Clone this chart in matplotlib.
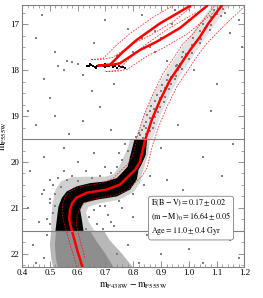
import numpy as np
import matplotlib
matplotlib.use("Agg")
import matplotlib.pyplot as plt

plt.rcParams['font.family'] = 'serif'
plt.rcParams['font.serif'] = ['Liberation Serif', 'DejaVu Serif']
plt.rcParams['mathtext.fontset'] = 'stix'

# best-fit isochrone (colour, magnitude)
iso_c = [0.617, 0.600, 0.585, 0.575, 0.570, 0.572, 0.580, 0.595, 0.633, 0.705, 0.753, 0.783,
         0.807, 0.824, 0.843, 0.867, 0.897, 0.933, 0.981, 1.005, 1.040, 1.071, 1.120]
iso_m = [22.28, 21.95, 21.62, 21.40, 21.25, 21.05, 20.90, 20.78, 20.67, 20.60, 20.49, 20.31,
         20.17, 20.00, 19.52, 19.08, 18.65, 18.21, 17.78, 17.56, 17.28, 16.98, 16.58]

# uncertainty isochrones (dashed)
iso_lo_c = [0.600, 0.591, 0.574, 0.559, 0.549, 0.544, 0.546, 0.554, 0.569, 0.607, 0.679, 0.727,
            0.757, 0.781, 0.798, 0.817, 0.841, 0.871, 0.907, 0.955, 0.979, 1.017, 1.060, 1.100]
iso_lo_m = [22.35, 22.15, 21.82, 21.49, 21.27, 21.12, 20.92, 20.77, 20.65, 20.54, 20.47, 20.36,
            20.18, 20.04, 19.87, 19.39, 18.95, 18.52, 18.08, 17.65, 17.43, 17.20, 16.85, 16.55]
iso_hi_c = [0.626, 0.611, 0.601, 0.596, 0.598, 0.606, 0.621, 0.659, 0.731, 0.779, 0.809, 0.833,
            0.850, 0.869, 0.893, 0.923, 0.959, 1.007, 1.031, 1.066, 1.100, 1.150, 1.200]
iso_hi_m = [22.08, 21.75, 21.53, 21.38, 21.18, 21.03, 20.91, 20.80, 20.73, 20.62, 20.44, 20.30,
            20.13, 19.65, 19.21, 18.78, 18.34, 17.91, 17.69, 17.41, 17.20, 16.90, 16.62]

# horizontal branch / AGB tracks
agb1_c = [0.675, 0.717, 0.760, 0.813, 0.897, 1.005]
agb1_m = [17.90, 17.88, 17.62, 17.34, 16.98, 16.60]
agb2_c = [0.675, 0.720, 0.753, 0.825, 0.885, 0.969, 1.066]
agb2_m = [17.90, 17.89, 17.85, 17.56, 17.38, 17.08, 16.60]
agb1_lo_c = [0.649, 0.691, 0.734, 0.787, 0.871, 0.979]
agb1_lo_m = [17.77, 17.75, 17.49, 17.21, 16.85, 16.47]
agb1_hi_c = [0.701, 0.743, 0.786, 0.839, 0.923, 1.031]
agb1_hi_m = [18.03, 18.01, 17.75, 17.47, 17.11, 16.73]
agb2_lo_c = [0.649, 0.694, 0.727, 0.799, 0.859, 0.943, 1.040]
agb2_lo_m = [17.77, 17.76, 17.72, 17.43, 17.25, 16.95, 16.47]
agb2_hi_c = [0.701, 0.746, 0.779, 0.851, 0.911, 0.995, 1.092]
agb2_hi_m = [18.03, 18.02, 17.98, 17.69, 17.51, 17.21, 16.73]

# dense regions of the CMD (outlines)
black_c = [0.520, 0.525, 0.531, 0.543, 0.561, 0.597, 0.645, 0.705, 0.741, 0.765, 0.780, 0.790, 0.805,
           0.850, 0.845, 0.830, 0.819, 0.813, 0.789, 0.741, 0.669, 0.621, 0.609, 0.615, 0.621]
black_m = [21.50, 21.25, 20.97, 20.78, 20.64, 20.53, 20.46, 20.42, 20.35, 20.20, 20.10, 19.85, 19.50,
           19.50, 19.85, 20.05, 20.17, 20.38, 20.60, 20.75, 20.82, 20.89, 21.04, 21.25, 21.50]
halo_c = [0.505, 0.505, 0.510, 0.520, 0.540, 0.580, 0.630, 0.700, 0.730, 0.750, 0.765, 0.780, 0.790,
          0.860, 0.855, 0.840, 0.830, 0.825, 0.800, 0.750, 0.680, 0.640, 0.630, 0.640, 0.660]
halo_m = [21.50, 21.20, 20.90, 20.60, 20.42, 20.33, 20.32, 20.32, 20.26, 20.10, 19.90, 19.70, 19.50,
          19.50, 19.80, 20.10, 20.30, 20.45, 20.66, 20.82, 20.90, 20.97, 21.10, 21.30, 21.50]
rgb_band_c = [0.809, 0.837, 0.874, 0.922, 0.977, 1.034, 1.084, 1.144, 1.094, 1.037, 0.982, 0.934, 0.897, 0.869]
rgb_band_m = [19.50, 19.00, 18.50, 18.00, 17.50, 17.00, 16.59, 16.59, 17.00, 17.50, 18.00, 18.50, 19.00, 19.50]
ms_out_c = [0.505, 0.500, 0.505, 0.512, 0.800, 0.760, 0.715, 0.695]
ms_out_m = [21.50, 21.80, 22.10, 22.30, 22.30, 22.00, 21.70, 21.50]
ms_in_c = [0.522, 0.518, 0.522, 0.528, 0.730, 0.700, 0.665, 0.645]
ms_in_m = [21.50, 21.80, 22.10, 22.30, 22.30, 22.00, 21.70, 21.50]

# field stars and loose points
field_c = [0.45, 0.52, 0.48, 0.55, 0.60, 0.58, 0.62, 0.66, 0.70, 0.78, 0.83, 0.88, 0.92, 1.02, 1.10, 1.15,
           1.18, 0.73, 0.65, 0.50, 0.42, 0.47, 0.95, 1.19, 0.53, 0.56,
           0.45, 0.52, 0.57, 0.62, 0.68, 0.72, 0.75, 0.66, 0.60, 0.55, 0.48, 0.43, 0.50, 0.58, 0.63, 0.70,
           0.90, 0.96, 1.05, 1.12, 0.98, 0.88, 1.08, 1.16,
           0.42, 0.46, 0.44, 0.48, 0.50, 0.47, 0.49, 0.45, 0.76, 0.80, 0.85, 0.78, 0.90, 0.95, 1.00, 1.05,
           1.10, 1.15, 0.72, 0.82, 0.74, 0.68, 0.92, 1.18,
           0.51, 0.53, 0.52, 0.54, 0.56, 0.50, 0.55, 0.60, 0.65, 0.68, 0.72, 0.74, 0.76, 0.78, 0.77, 0.86,
           0.84, 0.80, 0.75, 0.70, 0.66, 0.64, 0.67, 0.63, 0.69, 0.51, 0.50, 0.52, 0.49, 0.48, 0.71, 0.73]
field_m = [17.30, 17.60, 18.20, 18.00, 17.86, 17.83, 18.10, 17.40, 16.90, 17.10, 16.80, 17.60, 17.80, 18.00,
           18.30, 17.20, 16.90, 18.30, 18.45, 18.60, 18.90, 16.80, 16.70, 17.50, 17.90, 17.81,
           19.20, 19.00, 19.40, 19.10, 18.80, 19.30, 19.80, 19.80, 20.00, 19.70, 19.90, 20.20, 20.40, 20.30,
           20.20, 20.10, 19.70, 19.20, 19.90, 20.30, 20.60, 20.90, 18.90, 19.60,
           21.00, 21.30, 21.80, 22.10, 20.90, 20.70, 21.60, 22.20, 21.00, 21.20, 21.60, 21.80, 22.00, 21.40,
           21.90, 22.20, 21.10, 21.70, 21.30, 22.20, 22.00, 20.95, 20.40, 22.10,
           20.50, 20.35, 20.70, 20.55, 20.40, 20.80, 20.20, 20.42, 20.35, 20.30, 20.25, 20.10, 19.95, 19.75,
           19.60, 20.30, 20.50, 20.70, 20.85, 20.95, 21.05, 21.20, 21.35, 21.45, 21.45, 21.10, 21.35, 20.95,
           21.25, 20.60, 21.15, 21.40]

# red giant branch stars above the fitted region
rgb_c = [0.81, 0.825, 0.835, 0.845, 0.82, 0.83, 0.845, 0.86, 0.84, 0.87, 0.845, 0.86, 0.875, 0.85, 0.88,
         0.86, 0.875, 0.89, 0.865, 0.895, 0.88, 0.895, 0.91, 0.885, 0.915, 0.90, 0.915, 0.93, 0.905, 0.935,
         0.92, 0.935, 0.95, 0.925, 0.955, 0.96, 0.965, 0.97, 0.958, 0.975, 0.962, 0.968, 0.955,
         0.975, 0.99, 1.00, 0.98, 1.01, 1.01, 1.025, 1.04, 1.015, 1.045, 1.04, 1.06, 1.075, 1.05, 1.08,
         1.08, 1.10, 1.115, 1.09, 1.125, 0.86, 0.90, 0.94, 0.80, 1.00, 0.83, 1.13, 0.74, 0.88]
rgb_m = [19.45, 19.42, 19.48, 19.40, 19.36, 19.30, 19.27, 19.33, 19.22, 19.25, 19.12, 19.05, 19.15, 18.98,
         19.02, 18.90, 18.85, 18.92, 18.78, 18.80, 18.68, 18.60, 18.70, 18.55, 18.58, 18.45, 18.38, 18.42,
         18.32, 18.30, 18.22, 18.15, 18.20, 18.10, 18.12, 17.95, 17.90, 17.93, 17.88, 17.97, 18.00, 17.86,
         17.92, 17.72, 17.65, 17.75, 17.60, 17.62, 17.45, 17.38, 17.42, 17.30, 17.32, 17.15, 17.08, 17.12,
         17.00, 17.02, 16.85, 16.78, 16.82, 16.70, 16.68, 17.50, 17.30, 17.00, 17.60, 16.90, 17.30, 16.75,
         17.70, 17.15]

# horizontal branch stars used in the fit
hb_c = [0.632, 0.640, 0.648, 0.655, 0.662, 0.668, 0.675, 0.682, 0.690, 0.697, 0.704, 0.712, 0.720,
        0.727, 0.735, 0.742, 0.750, 0.757, 0.645, 0.700, 0.730, 0.665, 0.765, 0.770]
hb_m = [17.90, 17.92, 17.89, 17.91, 17.93, 17.90, 17.92, 17.89, 17.91, 17.94, 17.90, 17.92, 17.89,
        17.93, 17.91, 17.95, 17.92, 17.94, 17.87, 17.87, 17.88, 17.95, 17.93, 17.96]

fit_box = [19.5, 21.5]
labels = [r"$\mathrm{E(B-V)=0.17\pm0.02}$",
          r"$\mathrm{(m-M)_0=16.64\pm0.05}$",
          r"$\mathrm{Age=11.0\pm0.4\ Gyr}$"]

fig = plt.figure(figsize=(2.63, 2.98), dpi=100)
ax = fig.add_axes([0.084, 0.105, 0.845, 0.877])

ax.fill(rgb_band_c, rgb_band_m, color='#e2e2e2', lw=0, zorder=1)
ax.fill(halo_c, halo_m, color='#d0d0d0', lw=0, zorder=1)
ax.fill(ms_out_c, ms_out_m, color='#b8b8b8', lw=0, zorder=1)
ax.fill(ms_in_c, ms_in_m, color='#8e8e8e', lw=0, zorder=1)
ax.scatter(field_c, field_m, s=0.8, marker='s', color='#808080', linewidths=0, zorder=2)
ax.scatter(rgb_c, rgb_m, s=0.8, marker='s', color='#808080', linewidths=0, zorder=2)
ax.fill(black_c, black_m, color='black', lw=0, zorder=3)
ax.scatter(hb_c, hb_m, s=2.5, marker='s', color='black', linewidths=0, zorder=3)

for c, m in [(iso_lo_c, iso_lo_m), (iso_hi_c, iso_hi_m), (agb1_lo_c, agb1_lo_m),
             (agb1_hi_c, agb1_hi_m), (agb2_lo_c, agb2_lo_m), (agb2_hi_c, agb2_hi_m)]:
    ax.plot(c, m, color='red', lw=0.6, ls=(0, (2, 1.5)), alpha=0.8, zorder=4)
for c, m in [(iso_c, iso_m), (agb1_c, agb1_m), (agb2_c, agb2_m)]:
    ax.plot(c, m, color='red', lw=1.8, solid_capstyle='round', zorder=5)

for y in fit_box:
    ax.axhline(y, color='#808080', lw=0.8, zorder=6)

ax.text(0.58, 0.262, "\n".join(labels), transform=ax.transAxes, fontsize=5.9,
        va='top', ha='left', linespacing=1.25, zorder=7,
        bbox=dict(boxstyle='round,pad=0.3', fc='white', ec='#808080', lw=0.6))

ax.set_xlim(0.4, 1.2)
ax.set_ylim(22.28, 16.59)
ax.set_xticks(np.arange(0.4, 1.21, 0.1))
ax.set_xticks(np.arange(0.4, 1.21, 0.02), minor=True)
ax.set_yticks([17, 18, 19, 20, 21, 22])
ax.set_yticks(np.arange(16.75, 22.3, 0.25), minor=True)
ax.xaxis.set_major_formatter(matplotlib.ticker.FormatStrFormatter('%.1f'))
ax.tick_params(which='both', direction='in', top=True, right=True, color='#808080',
               labelsize=6.5, pad=2)
ax.tick_params(which='major', length=4, width=0.6)
ax.tick_params(which='minor', length=2, width=0.5)
for s in ax.spines.values():
    s.set_color('#808080')
    s.set_linewidth(0.8)

ax.set_xlabel(r"$\mathrm{m_{F438W}-m_{F555W}}$", fontsize=7, labelpad=2)
ax.set_ylabel(r"$\mathrm{m_{F555W}}$", fontsize=7)
ax.yaxis.set_label_coords(-0.058, 0.5)

fig.savefig("out.png", dpi=100)
